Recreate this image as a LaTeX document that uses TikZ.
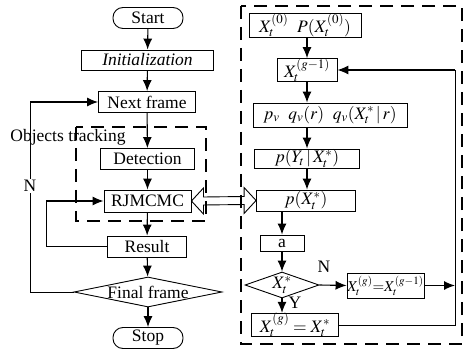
\documentclass[tikz,border=0pt]{standalone}
\usepackage{mathptmx}
\usepackage[no-math]{fontspec}
\setmainfont{Liberation Serif}
\usetikzlibrary{arrows.meta,shapes.geometric,calc}

\begin{document}
\begin{tikzpicture}[x=1pt,y=-1pt,
  font=\fontsize{17.5}{19}\selectfont,
  box/.style={draw,line width=0.9pt,inner sep=0pt,minimum height=20pt},
  term/.style={box,rounded corners=10pt,minimum width=70pt,minimum height=21pt},
  decide/.style={draw,line width=0.9pt,diamond,inner sep=0pt},
  flow/.style={line width=1.1pt,-{Latex[length=11pt,width=9pt]}},
  link/.style={line width=0.9pt},
  group/.style={draw,line width=2.2pt,dash pattern=on 13pt off 8pt},
  lbl/.style={inner sep=1pt}
]
\useasboundingbox (0,0) rectangle (465,355);

% ---- dashed groups ----
\draw[group] (76,127) rectangle (206,221);
\draw[group] (241,6) rectangle (462,344);
\node[lbl] (trk) at (68,137) {Objects tracking};

% ---- main loop ----
\node[term] (start) at (148,18) {Start};
\node[box,minimum width=132pt] (init) at (147.5,60) {\itshape Initialization};
\node[box,minimum width=97pt,minimum height=21pt] (next) at (147,102) {Next frame};
\node[box,minimum width=94pt,minimum height=21pt] (det) at (147.5,159) {Detection};
\node[box,minimum width=87pt,minimum height=22pt] (rj) at (147.5,201) {RJMCMC};
\node[box,minimum width=79pt,minimum height=21pt] (res) at (147,246.5) {Result};
\node[decide,aspect=5,minimum width=148pt,minimum height=30pt] (fin) at (148,292) {Final frame};
\node[term] (stop) at (148,338) {Stop};

\draw[flow] (start) -- (init);
\draw[flow] (init) -- (next);
\draw[flow] (next) -- (det);
\draw[flow] (det) -- (rj);
\draw[flow] (rj) -- (res);
\draw[flow] (res) -- (fin);
\draw[flow] (fin) -- (stop);

\coordinate (nx) at (30,0);
\coordinate (rx) at (46,0);
\draw[link] (fin.west) -- (fin.west -| nx) -- (next.west -| nx);
\draw[flow] (next.west -| nx) -- (next.west);
\node[lbl,fill=white] (nlab) at (30,186) {N};
\draw[link] (res.west) -- (res.west -| rx) -- (rj.west -| rx);
\draw[flow] (rj.west -| rx) -- (rj.west);

% ---- RJMCMC sampler ----
\node[box,minimum width=112pt,minimum height=24pt] (b1) at (305,25) {$X_t^{(0)}\ \ P(X_t^{(0)})$};
\node[box,minimum width=60pt,minimum height=20pt] (b2) at (307,70) {$X_t^{(g-1)}$};
\node[box,minimum width=154pt,minimum height=24pt] (b3) at (330,115) {$p_v\ \ q_v(r)\ \ q_v(X_t^*\,|\,r)$};
\node[box,minimum width=105pt,minimum height=19pt] (b4) at (307,158.5) {$p(Y_t\,|\,X_t^*)$};
\node[box,minimum width=99pt,minimum height=21pt] (b5) at (306,200.5) {$p(X_t^*)$};
\node[box,minimum width=44pt,minimum height=16pt] (ba) at (282,243) {a};
\node[decide,aspect=2.85,minimum width=74pt,minimum height=26pt] (dx) at (282,285) {$X_t^*$};
\node[box,minimum width=77pt,minimum height=25pt,font=\fontsize{15}{17}\selectfont] (bn) at (385.5,285.5) {$X_t^{(g)}{=}X_t^{(g-1)}$};
\node[box,minimum width=87pt,minimum height=23pt] (bs) at (295,325) {$X_t^{(g)}=X_t^*$};

\draw[flow] (b2.north |- b1.south) -- (b2.north);
\draw[flow] (b2.south) -- (b2.south |- b3.north);
\draw[flow] (b4.north |- b3.south) -- (b4.north);
\draw[flow] (b4.south) -- (b4.south |- b5.north);
\draw[flow] (ba.north |- b5.south) -- (ba.north);
\draw[flow] (ba.south) -- (dx.north);
\draw[flow] (dx.south) -- (dx.south |- bs.north);
\draw[flow] (dx.east) -- (bn.west);
\node[lbl] (nl) at (324,267) {N};
\node[lbl] (yl) at (295,303) {Y};

\coordinate (fx) at (455,0);
\draw[flow] (bn.east) -- (bn.east -| fx);
\draw[link] (bs.east) -- (bs.east -| fx) -- (b2.east -| fx);
\draw[flow] (b2.east -| fx) -- (b2.east);

% ---- hollow double arrow between RJMCMC and p(X*) ----
\draw[line width=0.9pt] (rj.east) -- ++(12,-13) -- ++(0,9)
  -- ($(b5.west)+(-12,-4)$) -- ++(0,-9) -- (b5.west) -- ++(-12,13) -- ++(0,-9)
  -- ($(rj.east)+(12,4)$) -- ++(0,9) -- cycle;
\end{tikzpicture}
\end{document}
